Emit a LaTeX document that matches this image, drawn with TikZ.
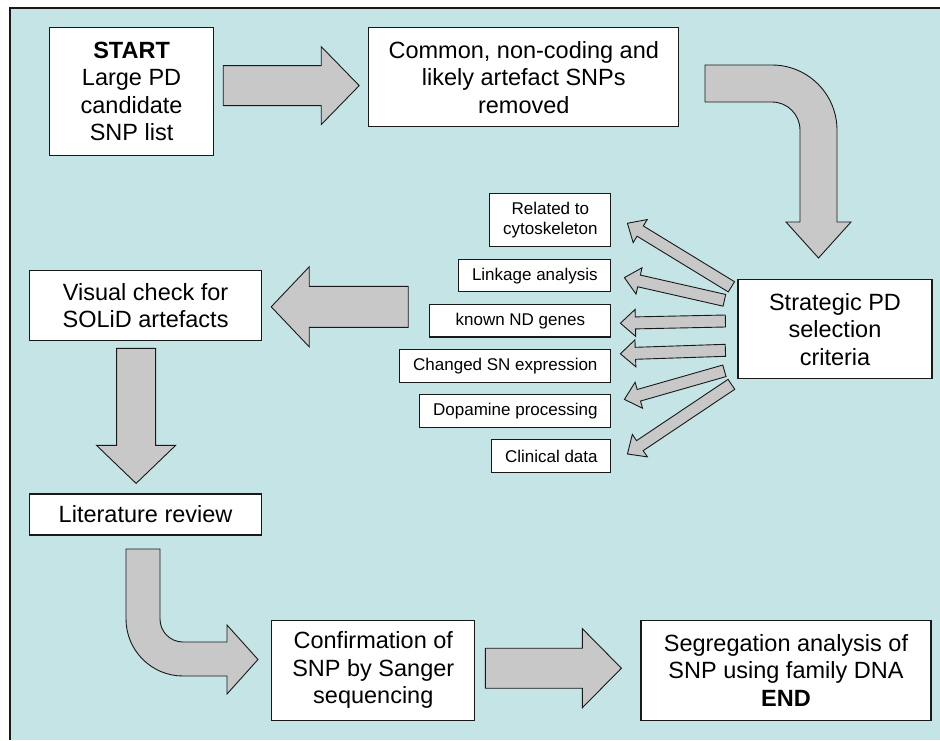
\documentclass[tikz,border=0pt]{standalone}
\usepackage{fontspec}
\setmainfont{Liberation Sans}
\usetikzlibrary{positioning,calc}

\definecolor{fundo}{RGB}{196,228,230}
\definecolor{cinza}{RGB}{200,200,200}
\definecolor{traco}{RGB}{25,25,25}

\newcommand{\setalarga}[5]{%
  \path let \p1=(#1), \p2=(#2),
    \n1={veclen(\x2-\x1,\y2-\y1)}, \n2={atan2(\y2-\y1,\x2-\x1)} in
    \pgfextra{\xdef\slcomp{\n1}\xdef\slang{\n2}};
  \draw[seta, shift={(#1)}, rotate=\slang]
    (0pt,-#3pt) -- ({\slcomp-#5pt},-#3pt) -- ({\slcomp-#5pt},-#4pt)
    -- (\slcomp,0pt) -- ({\slcomp-#5pt},#4pt) -- ({\slcomp-#5pt},#3pt)
    -- (0pt,#3pt) -- cycle;}

\begin{document}
\begin{tikzpicture}[x=1pt, y=1pt,
      font=\fontsize{23.5}{27.5}\selectfont,
      caixa/.style={draw=traco, line width=1.2pt, fill=white, align=center,
                    inner sep=0pt},
      mini/.style={draw=traco, line width=1.1pt, fill=white, align=center,
                   inner sep=0pt, font=\fontsize{17}{20}\selectfont,
                   minimum height=32.5pt},
      seta/.style={draw=traco, line width=0.9pt, fill=cinza, line join=miter}
    ]
    \useasboundingbox (0,0) rectangle (940,-740);
    \fill[fundo] (10,-8) rectangle (940,-740);
    \draw[traco, line width=1.6pt] (10,-740) -- (10,-8) -- (940,-8);

    \node[caixa, minimum width=164pt, minimum height=128pt, anchor=north west]
      (a) at (49,-27) {\textbf{START}\\Large PD\\candidate\\SNP list};
    \node[caixa, minimum width=310pt, minimum height=99pt,
          right=154pt of a.north east, anchor=north west]
      (b) {Common, non-coding and\\likely artefact SNPs\\removed};
    \node[caixa, minimum width=194pt, minimum height=99pt,
          below right=152pt and 58pt of b.south east, anchor=north west]
      (c) {Strategic PD\\selection\\criteria};
    \node[caixa, minimum width=232pt, minimum height=70pt,
          below left=114pt and 20pt of a.south west, anchor=north west]
      (d) {Visual check for\\SOLiD artefacts};
    \node[caixa, minimum width=232pt, minimum height=41pt, below=152pt of d]
      (e) {Literature review};
    \node[caixa, minimum width=203pt, minimum height=100pt,
          below right=84pt and 9pt of e.south east, anchor=north west]
      (f) {Confirmation of\\SNP by Sanger\\sequencing};
    \node[caixa, minimum width=290pt, minimum height=100pt, right=165pt of f]
      (g) {Segregation analysis of\\SNP using family DNA\\\textbf{END}};

    \node[mini, minimum width=121pt, minimum height=53pt,
          above left=86pt and 126pt of c.north west, anchor=north east]
      (k1) {Related to\\cytoskeleton};
    \node[mini, minimum width=152pt, below=11.5pt of k1.south east, anchor=north east]
      (k2) {Linkage analysis};
    \node[mini, minimum width=181pt, below=11.5pt of k2.south east, anchor=north east]
      (k3) {known ND genes};
    \node[mini, minimum width=211pt, below=11.5pt of k3.south east, anchor=north east]
      (k4) {Changed SN expression};
    \node[mini, minimum width=191pt, below=11.5pt of k4.south east, anchor=north east]
      (k5) {Dopamine processing};
    \node[mini, minimum width=119pt, below=11.5pt of k5.south east, anchor=north east]
      (k6) {Clinical data};

    \coordinate (t1) at ($(c.west)+(-6,42.5)$);
    \coordinate (t2) at ($(c.west)+(-13,29)$);
    \coordinate (t3) at ($(c.west)+(-12,8.3)$);
    \coordinate (t4) at ($(c.west)+(-12,-21)$);
    \coordinate (t5) at ($(c.west)+(-13,-41.5)$);
    \coordinate (t6) at ($(c.west)+(-6,-55)$);
    \coordinate (p1) at ($(k1.east)+(16,-3)$);
    \coordinate (p2) at ($(k2.east)+(13,-2)$);
    \coordinate (p3) at ($(k3.east)+(9,-2.5)$);
    \coordinate (p4) at ($(k4.east)+(9,12)$);
    \coordinate (p5) at ($(k5.east)+(13,11.5)$);
    \coordinate (p6) at ($(k6.east)+(16,2)$);
    \foreach \i in {1,...,6} {\setalarga{t\i}{p\i}{6}{13.5}{15}}

    \coordinate (ab1) at ($(a.east)+(9,6)$);
    \coordinate (ab2) at ($(b.west)+(-9,-8.5)$);
    \coordinate (cd1) at ($(d.east)+(146,-1)$);
    \coordinate (cd2) at ($(d.east)+(9,-1)$);
    \coordinate (de1) at ($(d.south)+(-9.5,-7)$);
    \coordinate (de2) at ($(e.north)+(-9.5,10)$);
    \coordinate (fg1) at ($(f.east)+(10,2)$);
    \coordinate (fg2) at ($(g.west)+(-19,2)$);
    \setalarga{ab1}{ab2}{20}{39}{38}
    \setalarga{cd1}{cd2}{20.5}{40}{38}
    \setalarga{de1}{de2}{19.5}{39.5}{38}
    \setalarga{fg1}{fg2}{20}{39.5}{39}

    \draw[seta] (705,-65) -- (772,-65) arc[start angle=90, end angle=0, radius=65]
      -- (837,-222) -- (851,-222) -- (818.5,-258) -- (786,-222) -- (800,-222)
      -- (800,-130) arc[start angle=0, end angle=90, radius=28] -- (705,-102) -- cycle;
    \draw[seta] (126,-549) -- (126,-619) arc[start angle=180, end angle=270, radius=57]
      -- (227,-676) -- (227,-694) -- (258,-659.5) -- (227,-625) -- (227,-642)
      -- (183,-642) arc[start angle=270, end angle=180, radius=23] -- (160,-549) -- cycle;
  \end{tikzpicture}
\end{document}
